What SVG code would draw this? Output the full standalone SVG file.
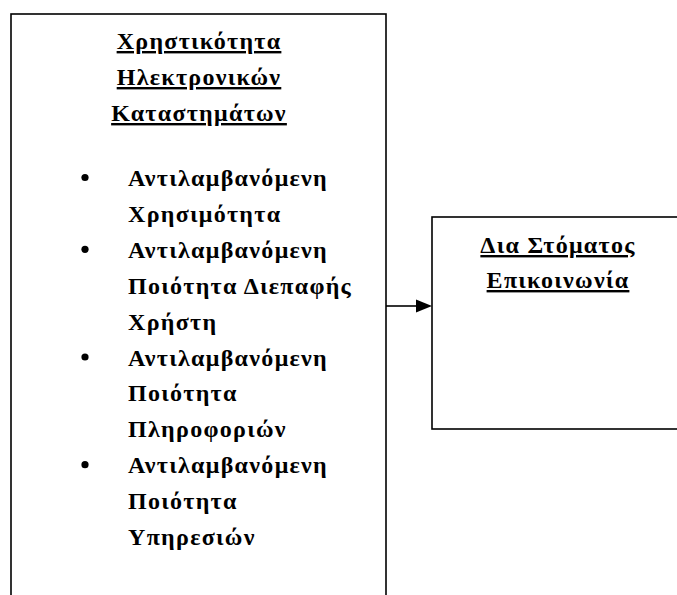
<svg xmlns="http://www.w3.org/2000/svg" width="677" height="595" viewBox="0 0 677 595">
<style>
.box{fill:#fff;stroke:#000;stroke-width:1.6}
.t{font-family:"Liberation Serif","Times New Roman",serif;font-weight:bold;font-size:24px;letter-spacing:1.3px;fill:#000}
.u{text-decoration:underline}
.c{text-anchor:middle}
</style>
<rect width="677" height="595" fill="#fff"/>
<g id="usability">
<rect class="box" x="11" y="14" width="375" height="620"/>
<text class="t c u" x="199" y="49">Χρηστικότητα</text>
<text class="t c u" x="199" y="85">Ηλεκτρονικών</text>
<text class="t c u" x="199" y="121">Καταστημάτων</text>
<circle cx="85" cy="177.5" r="3.6"/>
<circle cx="85" cy="249.3" r="3.6"/>
<circle cx="85" cy="357" r="3.6"/>
<circle cx="85" cy="464.7" r="3.6"/>
<text class="t" x="128" y="186">Αντιλαμβανόμενη</text>
<text class="t" x="128" y="221.9">Χρησιμότητα</text>
<text class="t" x="128" y="257.8">Αντιλαμβανόμενη</text>
<text class="t" x="128" y="293.7">Ποιότητα Διεπαφής</text>
<text class="t" x="128" y="329.6">Χρήστη</text>
<text class="t" x="128" y="365.5">Αντιλαμβανόμενη</text>
<text class="t" x="128" y="401.4">Ποιότητα</text>
<text class="t" x="128" y="437.3">Πληροφοριών</text>
<text class="t" x="128" y="473.2">Αντιλαμβανόμενη</text>
<text class="t" x="128" y="509.1">Ποιότητα</text>
<text class="t" x="128" y="545">Υπηρεσιών</text>
</g>
<g id="wom">
<rect class="box" x="432" y="217" width="260" height="212"/>
<text class="t c u" x="558" y="253">Δια Στόματος</text>
<text class="t c u" x="558" y="288">Επικοινωνία</text>
</g>
<g id="connectors">
<line x1="386" y1="306" x2="418" y2="306" stroke="#000" stroke-width="1.6"/>
<polygon points="416,299.5 432,306 416,312.5" fill="#000"/>
</g>
</svg>
